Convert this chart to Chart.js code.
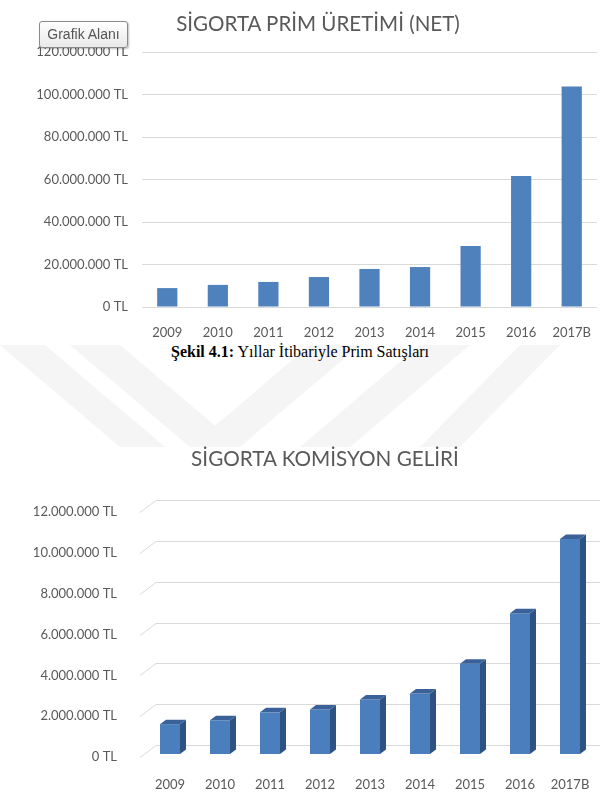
<!DOCTYPE html>
<html>
<head>
<meta charset="utf-8">
<script src="https://cdn.jsdelivr.net/npm/chart.js@4.4.0/dist/chart.umd.min.js"></script>
<style>
body{margin:0;background:#fff;width:608px;height:793px;overflow:hidden;position:relative;}
#wm{position:absolute;left:0;top:0;z-index:0;}
.title{position:absolute;color:#595959;font-family:Lato,sans-serif;white-space:nowrap;transform-origin:center;z-index:2;
 width:400px;text-align:center;font-size:22px;line-height:26px;}
#t1{left:118px;top:10px;transform:scaleX(0.934);}
#t2{left:125px;top:445px;transform:scaleX(0.94);}
.wrap{position:absolute;left:0;z-index:1;}
#w1{top:0;}
#w2{top:470px;}
#tip{position:absolute;left:39px;top:21px;width:89px;height:27px;box-sizing:border-box;border:1px solid #8a8a8a;border-radius:3px;
 background:linear-gradient(#ffffff,#e9e9e9);box-shadow:1px 1px 2px rgba(0,0,0,0.25);font-family:"Liberation Sans",Arial,sans-serif;
 font-size:14px;line-height:25px;text-align:center;color:#555;z-index:3;}
#cap{position:absolute;left:171px;top:343px;font-family:"Liberation Serif","Times New Roman",serif;white-space:nowrap;
 font-size:16px;line-height:18px;color:#000;z-index:2;}
</style>
</head>
<body>
<svg id="wm" width="608" height="793">
  <g fill="#f5f5f5">
    <polygon points="0,345 45,345 165,447 120,447"/>
    <polygon points="70,345 120,345 240,447 190,447"/>
    <polygon points="190,447 240,447 360,345 310,345"/>
    <polygon points="300,447 350,447 470,345 420,345"/>
    <polygon points="420,447 460,447 560,345 520,345"/>
  </g>
</svg>

<div id="t1" class="title">SİGORTA PRİM ÜRETİMİ (NET)</div>
<div id="w1" class="wrap"><canvas id="premChart" width="608" height="340"></canvas></div>
<div id="tip">Grafik Alanı</div>
<div id="cap"><b>Şekil 4.1:</b> Yıllar İtibariyle Prim Satışları</div>
<div id="t2" class="title">SİGORTA KOMİSYON GELİRİ</div>
<div id="w2" class="wrap"><canvas id="komChart" width="608" height="323"></canvas></div>

<script>
// yillar
var years = ['2009','2010','2011','2012','2013','2014','2015','2016','2017B'];
// prim uretimi (net), TL
var premium = [8900000, 10400000, 11800000, 14100000, 17900000, 18800000, 28700000, 61600000, 103800000];
// komisyon geliri, TL
var commission = [1460000, 1650000, 2040000, 2180000, 2670000, 2960000, 4420000, 6890000, 10530000];

var premTicks = {min: 0, max: 120000000, step: 20000000};
var komTicks = {min: 0, max: 12000000, step: 2000000};

function tl(v){
    return String(v).replace(/\B(?=(\d{3})+(?!\d))/g, '.') + ' TL';
}

var tickFont = {family: 'Lato', size: 13};
var grey = '#595959';

// ust grafik
var ctx1 = document.getElementById('premChart').getContext('2d');
new Chart(ctx1, {
    type: 'bar',
    data: {
        labels: years,
        datasets: [{
            data: premium,
            backgroundColor: '#4f81bd',
            borderWidth: 0,
            categoryPercentage: 0.8,
            barPercentage: 0.5
        }]
    },
    options: {
        responsive: false,
        animation: false,
        layout: {padding: {top: 52, right: 11, bottom: 0, left: 0}},
        plugins: {legend: {display: false}, tooltip: {enabled: false}},
        scales: {
            x: {
                grid: {display: false},
                border: {display: false},
                ticks: {color: grey, font: tickFont, padding: 10},
                afterFit: function(s){ s.height = 33; }
            },
            y: {
                min: premTicks.min, max: premTicks.max,
                grid: {color: '#d9d9d9', drawTicks: false},
                border: {display: false},
                ticks: {stepSize: premTicks.step, color: grey, font: tickFont, padding: 14, callback: tl},
                afterFit: function(s){ s.width = 142; }
            }
        }
    }
});

// 3 boyutlu gorunum
var dx = 6, dy = 4.5;
var threeD = {
    id: 'threeD',
    beforeDatasetsDraw: function(chart){
        var c = chart.ctx, a = chart.chartArea, y = chart.scales.y;
        c.save();
        c.strokeStyle = '#d9d9d9';
        c.lineWidth = 1;
        y.ticks.forEach(function(t){
            var py = Math.round(y.getPixelForValue(t.value)) + 0.5;
            c.beginPath();
            c.moveTo(a.left - 5, py + 3);
            c.lineTo(a.left + 11, py - 9);
            c.lineTo(a.right + 5, py - 9);
            c.stroke();
        });
        c.restore();
    },
    afterDatasetsDraw: function(chart){
        var c = chart.ctx;
        var meta = chart.getDatasetMeta(0);
        c.save();
        meta.data.forEach(function(bar){
            var p = bar.getProps(['x','y','base','width'], true);
            var l = p.x - p.width/2, r = p.x + p.width/2;
            c.fillStyle = '#2e5282';
            c.beginPath();
            c.moveTo(r, p.y); c.lineTo(r+dx, p.y-dy); c.lineTo(r+dx, p.base-dy); c.lineTo(r, p.base);
            c.closePath(); c.fill();
            c.fillStyle = '#3a6299';
            c.beginPath();
            c.moveTo(l, p.y); c.lineTo(l+dx, p.y-dy); c.lineTo(r+dx, p.y-dy); c.lineTo(r, p.y);
            c.closePath(); c.fill();
        });
        c.restore();
    }
};

// alt grafik
var ctx2 = document.getElementById('komChart').getContext('2d');
new Chart(ctx2, {
    type: 'bar',
    data: {
        labels: years,
        datasets: [{
            data: commission,
            backgroundColor: '#4a7ebd',
            borderWidth: 0,
            categoryPercentage: 0.8,
            barPercentage: 0.5
        }]
    },
    options: {
        responsive: false,
        animation: false,
        layout: {padding: {top: 39, right: 13, bottom: 0, left: 0}},
        plugins: {legend: {display: false}, tooltip: {enabled: false}},
        scales: {
            x: {
                grid: {display: false},
                border: {display: false},
                ticks: {color: grey, font: tickFont, padding: 15},
                afterFit: function(s){ s.height = 39; }
            },
            y: {
                min: komTicks.min, max: komTicks.max,
                grid: {display: false},
                border: {display: false},
                ticks: {stepSize: komTicks.step, color: grey, font: tickFont, padding: 20, labelOffset: 3, callback: tl},
                afterFit: function(s){ s.width = 145; }
            }
        }
    },
    plugins: [threeD]
});
</script>
</body>
</html>
